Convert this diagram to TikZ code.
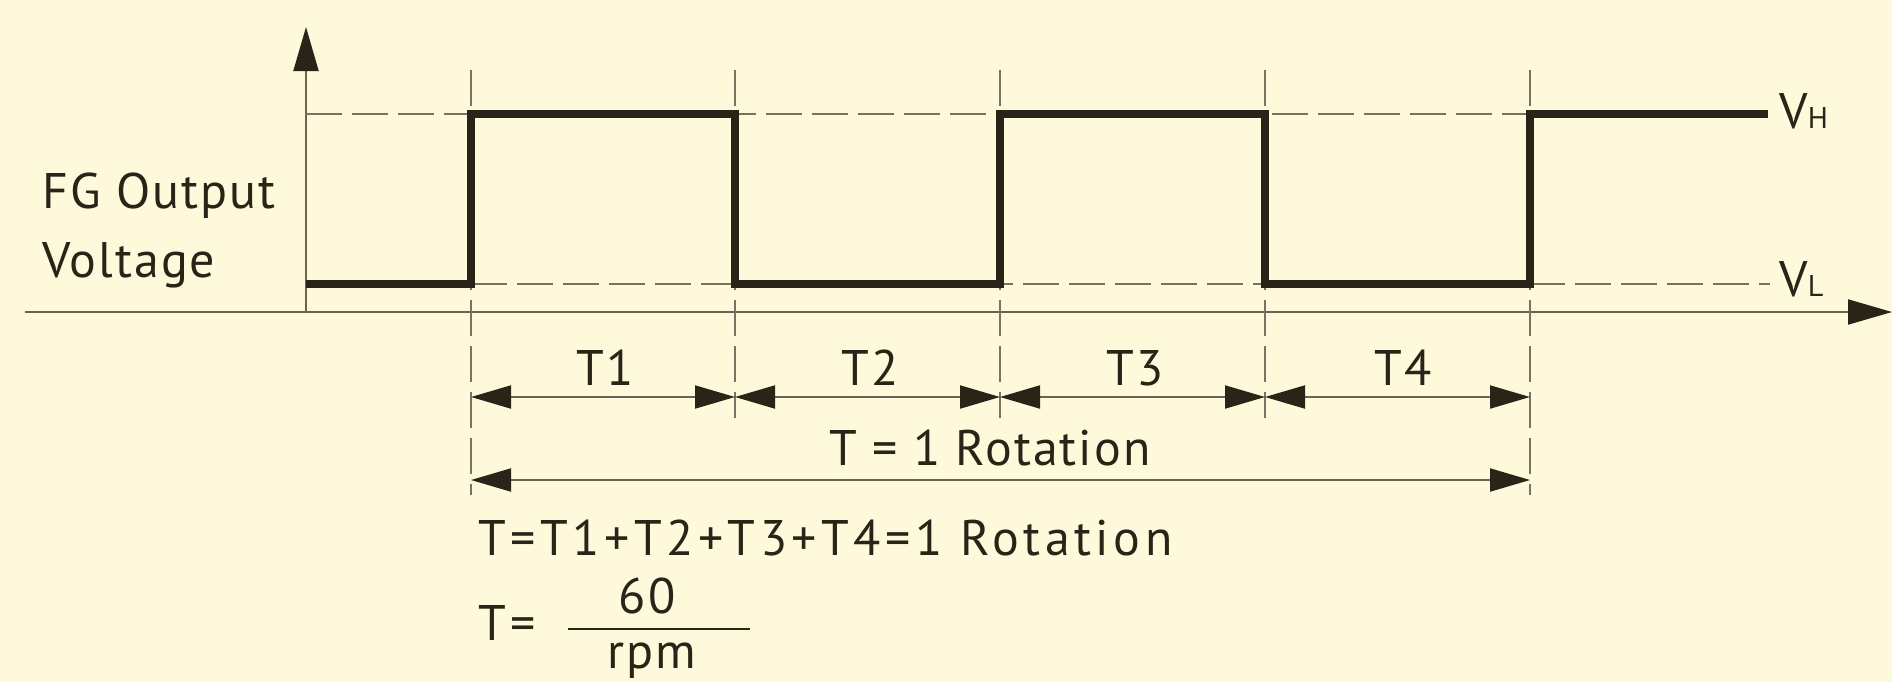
\documentclass[tikz,border=0pt]{standalone}
\usepackage{fontspec}
\setmainfont{PT Sans}[LetterSpace=4]
\usetikzlibrary{arrows.meta}
\definecolor{bg}{HTML}{FFF9DC}
\definecolor{ink}{HTML}{2A2418}
\definecolor{thin}{HTML}{6B6250}
\definecolor{dashc}{HTML}{7A7262}
\begin{document}
\begin{tikzpicture}[x=0.5pt,y=-0.5pt,
  sig/.style={line width=4.2pt, draw=ink, line join=miter},
  axisline/.style={line width=1pt, draw=thin, -{Triangle[length=22pt,width=12.5pt,color=ink]}},
  guide/.style={line width=0.8pt, draw=dashc, dash pattern=on 18pt off 5pt},
  dimline/.style={line width=1pt, draw=thin, {Triangle[length=20pt,width=11.5pt,color=ink]}-{Triangle[length=20pt,width=11.5pt,color=ink]}},
  lbl/.style={text=ink, inner sep=0pt, font=\fontsize{25}{34.5}\selectfont}]
\fill[bg] (0,0) rectangle (1892,682);
\useasboundingbox (0,0) rectangle (1892,682);

% axes
\coordinate (o) at (306,312);
\coordinate (ytip) at (306,27);
\coordinate (xs) at (25,312);
\coordinate (xtip) at (1892,312);
\draw[line width=1pt, draw=thin] (xs) -- (o);
\draw[axisline] (o) -- (xtip);
\draw[axisline] (o) -- (ytip);

% level guides
\coordinate (vhs) at (306,114);
\coordinate (vhe) at (1768,114);
\coordinate (vls) at (471,284);
\coordinate (vle) at (1770,284);
\draw[guide] (vhs) -- (vhe);
\draw[guide] (vls) -- (vle);

% edge guides
\foreach \i/\x/\b in {0/471/495,1/735/418,2/1000/418,3/1265/418,4/1530/495}{
  \coordinate (t\i) at (\x,70);
  \coordinate (b\i) at (\x,\b);
  \coordinate (d\i) at (\x,397);
  \coordinate (L\i) at (\x,284);
  \coordinate (H\i) at (\x,114);
  \draw[guide] (t\i) -- (b\i);
}
\coordinate (s0) at (306,284);
\coordinate (s5) at (1768,114);

% signal
\draw[sig] (s0) -- (L0) -- (H0) -- (H1) -- (L1) -- (L2) -- (H2) -- (H3) -- (L3) -- (L4) -- (H4) -- (s5);

% dimension arrows
\draw[dimline] (d0) -- (d1);
\draw[dimline] (d1) -- (d2);
\draw[dimline] (d2) -- (d3);
\draw[dimline] (d3) -- (d4);
\coordinate (D0) at (471,480);
\coordinate (D4) at (1530,480);
\draw[dimline] (D0) -- (D4);

% labels
\node[lbl, anchor=base west, align=left] (fg) at (42,277) {FG Output\\Voltage};
\node[lbl, anchor=base west] (vh) at (1779,128) {V{\fontsize{15}{15}\selectfont H}};
\node[lbl, anchor=base west] (vl) at (1779,296) {V{\fontsize{15}{15}\selectfont L}};
\node[lbl, anchor=base] (T1) at (605,385) {T1};
\node[lbl, anchor=base] (T2) at (870,385) {T2};
\node[lbl, anchor=base] (T3) at (1135,385) {T3};
\node[lbl, anchor=base] (T4) at (1403,385) {T4};
\node[lbl, anchor=base] (trot) at (990,465) {T = 1 Rotation};
\node[lbl, anchor=base west] (sum) at (478,555) {\addfontfeatures{LetterSpace=9}T=T1+T2+T3+T4=1 Rotation};
\node[lbl, anchor=base west] (teq) at (478,640) {\addfontfeatures{LetterSpace=9}T=};
\coordinate (fl) at (568,629);
\coordinate (fr) at (750,629);
\draw[line width=1pt, draw=ink] (fl) -- (fr);
\node[lbl, anchor=base] (num) at (647,613) {60};
\node[lbl, anchor=base] (den) at (652,668) {rpm};
\end{tikzpicture}
\end{document}
